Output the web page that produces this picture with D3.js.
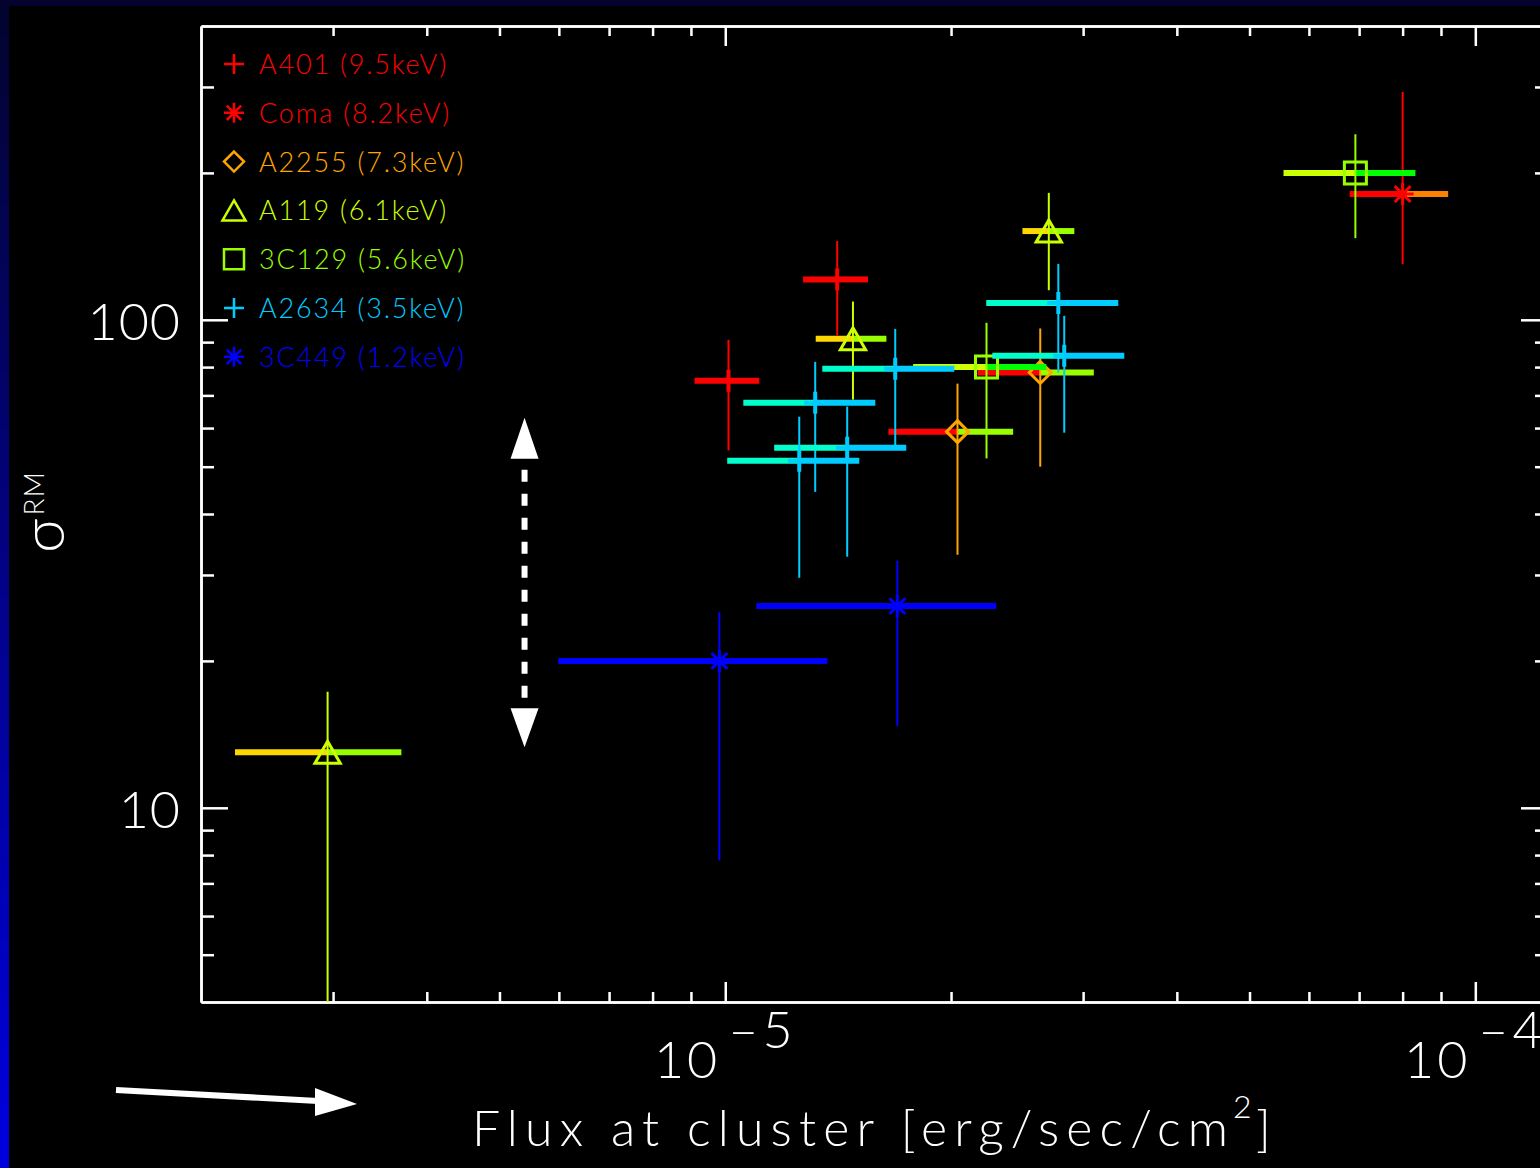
<!DOCTYPE html>
<html>
<head>
<meta charset="utf-8">
<script src="https://cdn.jsdelivr.net/npm/d3@7"></script>
<style>
  html, body { margin: 0; padding: 0; background: #000; }
  svg { display: block; }
  text { font-family: "Lato", "DejaVu Sans", sans-serif; font-weight: 300; fill: #fff; }
</style>
</head>
<body>
<svg id="chart" width="1540" height="1168"></svg>
<script>
// ---- data ---------------------------------------------------------------
const clusters   = ["A401", "Coma", "A2255", "A119", "3C129", "A2634", "3C449"];
const clusterKeV = ["9.5keV", "8.2keV", "7.3keV", "6.1keV", "5.6keV", "3.5keV", "1.2keV"];

// one entry per measurement
const pointCluster = ["A401", "A401", "Coma", "A2255", "A2255", "A119", "A119", "A119",
                      "3C129", "3C129", "A2634", "A2634", "A2634", "A2634", "A2634", "A2634",
                      "3C449", "3C449"];
const flux     = [1.01e-5, 1.41e-5, 8.0e-5, 2.04e-5, 2.63e-5, 2.95e-6, 1.48e-5, 2.70e-5,
                  2.23e-5, 6.92e-5, 1.685e-5, 1.318e-5, 1.454e-5, 1.255e-5, 2.78e-5, 2.831e-5,
                  9.82e-6, 1.696e-5];
const fluxLow  = [9.1e-6, 1.27e-5, 6.8e-5, 1.65e-5, 2.17e-5, 2.22e-6, 1.32e-5, 2.49e-5,
                  1.78e-5, 5.55e-5, 1.347e-5, 1.057e-5, 1.162e-5, 1.006e-5, 2.228e-5, 2.27e-5,
                  5.99e-6, 1.10e-5];
const fluxHigh = [1.11e-5, 1.55e-5, 9.2e-5, 2.42e-5, 3.10e-5, 3.70e-6, 1.64e-5, 2.92e-5,
                  2.68e-5, 8.32e-5, 2.02e-5, 1.585e-5, 1.743e-5, 1.509e-5, 3.342e-5, 3.404e-5,
                  1.368e-5, 2.298e-5];
const sigma     = [75, 121, 181, 59, 78, 13.0, 91.4, 152, 80, 200, 79.4, 67.6, 54.7, 51.4, 108.3, 84.4, 20.0, 25.9];
const sigmaLow  = [54, 93, 130, 33, 50, 3.0, 68.6, 115, 52, 147, 54.9, 44.4, 32.7, 29.6, 77.9, 58.7, 7.8, 14.7];
const sigmaHigh = [91, 145, 293, 74, 96, 17.3, 109, 182, 98.6, 240, 95.8, 82, 66.4, 63.3, 130.2, 101.9, 25.2, 32.1];

// axis ticks
const xMajorTicks = [1e-5, 1e-4];
const xMajorExp   = ["5", "4"];
const xMinorTicks = [3e-6, 4e-6, 5e-6, 6e-6, 7e-6, 8e-6, 9e-6,
                     2e-5, 3e-5, 4e-5, 5e-5, 6e-5, 7e-5, 8e-5, 9e-5];
const yMajorTicks = [10, 100];
const yMinorTicks = [5, 6, 7, 8, 9, 20, 30, 40, 50, 60, 70, 80, 90, 200, 300];

// ---- styles -------------------------------------------------------------
const clusterColour = {
  "A401": "#ff0000", "Coma": "#ff0000", "A2255": "#ffa500", "A119": "#ccff00",
  "3C129": "#99ff00", "A2634": "#00ccff", "3C449": "#0000ff"
};
const clusterSymbol = {
  "A401": "plus", "Coma": "asterisk", "A2255": "diamond", "A119": "triangle",
  "3C129": "square", "A2634": "plus", "3C449": "asterisk"
};
// colours of the left / right half of each horizontal flux bar
const barLeft  = ["#ff0000", "#ff0000", "#ff0000", "#ff0000", "#ff0000", "#ffd700", "#ffd700", "#ffd700",
                  "#ccff00", "#ccff00", "#00ffcc", "#00ffcc", "#00ffcc", "#00ffcc", "#00ffcc", "#00ffcc",
                  "#0000ff", "#0000ff"];
const barRight = ["#ff0000", "#ff0000", "#ff8000", "#99ff00", "#99ff00", "#99ff00", "#99ff00", "#99ff00",
                  "#00ff00", "#00ff00", "#00ccff", "#00ccff", "#00ccff", "#00ccff", "#00ccff", "#00ccff",
                  "#0000ff", "#0000ff"];

// ---- setup --------------------------------------------------------------
const W = 1540, H = 1168;
const svg = d3.select("#chart");
const defs = svg.append("defs");

// slide background: dark frame with a blue gradient down the left edge
const grad = defs.append("linearGradient").attr("id", "edge")
  .attr("x1", 0).attr("y1", 0).attr("x2", 0).attr("y2", 1);
grad.append("stop").attr("offset", "0%").attr("stop-color", "#03032e");
grad.append("stop").attr("offset", "100%").attr("stop-color", "#0000e0");

svg.append("rect").attr("width", W).attr("height", H).attr("fill", "#000");
svg.append("rect").attr("width", W).attr("height", 6).attr("fill", "#03032e");
svg.append("rect").attr("width", 9).attr("height", H).attr("fill", "url(#edge)");

const x = d3.scaleLog().domain([2e-6, 1.25e-4]).range([201, 1548]);
const y = d3.scaleLog().domain([4, 400]).range([1002, 26]);
const [x0, x1] = x.range();
const [y0, y1] = y.range();

defs.append("clipPath").attr("id", "plot")
  .append("rect").attr("x", x0).attr("y", y1).attr("width", x1 - x0).attr("height", y0 - y1);

// ---- axes ---------------------------------------------------------------
function styleAxis(g) {
  g.select(".domain").attr("stroke", "#fff").attr("stroke-width", 2.5);
  g.selectAll(".tick line").attr("stroke", "#fff").attr("stroke-width", 2.5);
  g.selectAll(".tick text").remove();
}
function addAxis(gen, tr) {
  svg.append("g").attr("transform", tr).call(gen).call(styleAxis);
}
// bottom (ticks inward / up) and top (ticks down)
addAxis(d3.axisTop(x).tickValues(xMajorTicks).tickSize(20).tickSizeOuter(0).tickFormat(""), `translate(0,${y0})`);
addAxis(d3.axisTop(x).tickValues(xMinorTicks).tickSize(10).tickSizeOuter(0).tickFormat(""), `translate(0,${y0})`);
addAxis(d3.axisBottom(x).tickValues(xMajorTicks).tickSize(20).tickSizeOuter(0).tickFormat(""), `translate(0,${y1})`);
addAxis(d3.axisBottom(x).tickValues(xMinorTicks).tickSize(10).tickSizeOuter(0).tickFormat(""), `translate(0,${y1})`);
// left (ticks right) and right (ticks left)
addAxis(d3.axisRight(y).tickValues(yMajorTicks).tickSize(27).tickSizeOuter(0).tickFormat(""), `translate(${x0},0)`);
addAxis(d3.axisRight(y).tickValues(yMinorTicks).tickSize(13).tickSizeOuter(0).tickFormat(""), `translate(${x0},0)`);
addAxis(d3.axisLeft(y).tickValues(yMajorTicks).tickSize(27).tickSizeOuter(0).tickFormat(""), `translate(${x1},0)`);
addAxis(d3.axisLeft(y).tickValues(yMinorTicks).tickSize(13).tickSizeOuter(0).tickFormat(""), `translate(${x1},0)`);

// tick labels
svg.append("g").selectAll("text").data(yMajorTicks).join("text")
  .attr("x", x0 - 20).attr("y", d => y(d) + 20)
  .attr("text-anchor", "end")
  .attr("font-size", 52).attr("letter-spacing", 1)
  .text(d => d3.format("d")(d));

const xl = svg.append("g").selectAll("text").data(xMajorTicks).join("text")
  .attr("x", d => x(d)).attr("y", y0 + 76)
  .attr("text-anchor", "middle")
  .attr("font-size", 52);
xl.append("tspan").attr("letter-spacing", 3).text("10");
xl.append("tspan").attr("dx", 8).attr("dy", -30).attr("font-size", 52).attr("letter-spacing", 4)
  .text((d, i) => "\u2013" + xMajorExp[i]);

// axis titles
const xt = svg.append("text").attr("x", 472).attr("y", 1146).attr("font-size", 50);
xt.append("tspan").attr("textLength", 756).attr("lengthAdjust", "spacing").text("Flux at cluster [erg/sec/cm");
svg.append("text").attr("x", 1233).attr("y", 1118).attr("font-size", 32).text("2");
svg.append("text").attr("x", 1256).attr("y", 1146).attr("font-size", 50).text("]");

const yt = svg.append("text").attr("transform", "translate(64,553) rotate(-90)").attr("font-size", 60);
yt.append("tspan").text("\u03c3");
yt.append("tspan").attr("dy", -20).attr("dx", 3).attr("font-size", 28).attr("letter-spacing", 1).text("RM");

// ---- symbols ------------------------------------------------------------
function symbolPath(type, r) {
  const p = d3.path();
  if (type === "plus") {
    p.moveTo(-r, 0); p.lineTo(r, 0); p.moveTo(0, -r); p.lineTo(0, r);
  } else if (type === "asterisk") {
    p.moveTo(-r, 0); p.lineTo(r, 0); p.moveTo(0, -r); p.lineTo(0, r);
    const d = r * 0.72;
    p.moveTo(-d, -d); p.lineTo(d, d); p.moveTo(-d, d); p.lineTo(d, -d);
  } else if (type === "diamond") {
    p.moveTo(0, -r); p.lineTo(r, 0); p.lineTo(0, r); p.lineTo(-r, 0); p.closePath();
  } else if (type === "triangle") {
    p.moveTo(0, -r); p.lineTo(r * 1.15, r); p.lineTo(-r * 1.15, r); p.closePath();
  } else if (type === "square") {
    p.rect(-r, -r, 2 * r, 2 * r);
  }
  return p.toString();
}

// ---- data marks ---------------------------------------------------------
const idx = d3.range(flux.length);
const plot = svg.append("g").attr("clip-path", "url(#plot)");

const pts = plot.selectAll("g.pt").data(idx).join("g").attr("class", "pt");
// flux range bars, two colours split at the measured flux
pts.append("line")
  .attr("x1", i => x(fluxLow[i])).attr("x2", i => x(flux[i]))
  .attr("y1", i => y(sigma[i])).attr("y2", i => y(sigma[i]))
  .attr("stroke", i => barLeft[i]).attr("stroke-width", 6);
pts.append("line")
  .attr("x1", i => x(flux[i])).attr("x2", i => x(fluxHigh[i]))
  .attr("y1", i => y(sigma[i])).attr("y2", i => y(sigma[i]))
  .attr("stroke", i => barRight[i]).attr("stroke-width", 6);
// sigma error bars
pts.append("line")
  .attr("x1", i => x(flux[i])).attr("x2", i => x(flux[i]))
  .attr("y1", i => y(sigmaLow[i])).attr("y2", i => y(sigmaHigh[i]))
  .attr("stroke", i => clusterColour[pointCluster[i]]).attr("stroke-width", 2);
// markers
pts.append("path")
  .attr("transform", i => `translate(${x(flux[i])},${y(sigma[i])})`)
  .attr("d", i => symbolPath(clusterSymbol[pointCluster[i]], 11))
  .attr("fill", "none")
  .attr("stroke", i => clusterColour[pointCluster[i]])
  .attr("stroke-width", i => clusterSymbol[pointCluster[i]] === "plus" ? 4 : 3);

// ---- legend -------------------------------------------------------------
const leg = svg.append("g").selectAll("g").data(clusters).join("g")
  .attr("transform", (d, i) => `translate(234,${64 + i * 48.8})`);
leg.append("path")
  .attr("d", d => symbolPath(clusterSymbol[d], 10))
  .attr("fill", "none").attr("stroke", d => clusterColour[d]).attr("stroke-width", 2.5);
leg.append("text")
  .attr("x", 25).attr("y", 10)
  .attr("font-size", 27).attr("letter-spacing", 1.8)
  .style("fill", d => clusterColour[d])
  .text((d, i) => `${d} (${clusterKeV[i]})`);

// ---- annotations --------------------------------------------------------
// dashed double-headed arrow: range spanned by the sigma estimates
const ax = x(5.4e-6), aTop = y(63), aBot = y(13.3);
const ann = svg.append("g").attr("fill", "#fff");
ann.append("line").attr("x1", ax).attr("x2", ax).attr("y1", aTop + 52).attr("y2", aBot - 48)
  .attr("stroke", "#fff").attr("stroke-width", 6).attr("stroke-dasharray", "12 12");
ann.append("path").attr("d", `M${ax},${aTop} L${ax + 14},${aTop + 41} L${ax - 14},${aTop + 41} Z`);
ann.append("path").attr("d", `M${ax},${aBot} L${ax + 14},${aBot - 39} L${ax - 14},${aBot - 39} Z`);

// arrow below the plot pointing along the flux axis
const arr = svg.append("g");
arr.append("line").attr("x1", 116).attr("y1", 1090).attr("x2", 318).attr("y2", 1101)
  .attr("stroke", "#fff").attr("stroke-width", 6);
arr.append("path").attr("d", "M315,1088 L357,1104 L315,1116 Z").attr("fill", "#fff");
</script>
</body>
</html>
